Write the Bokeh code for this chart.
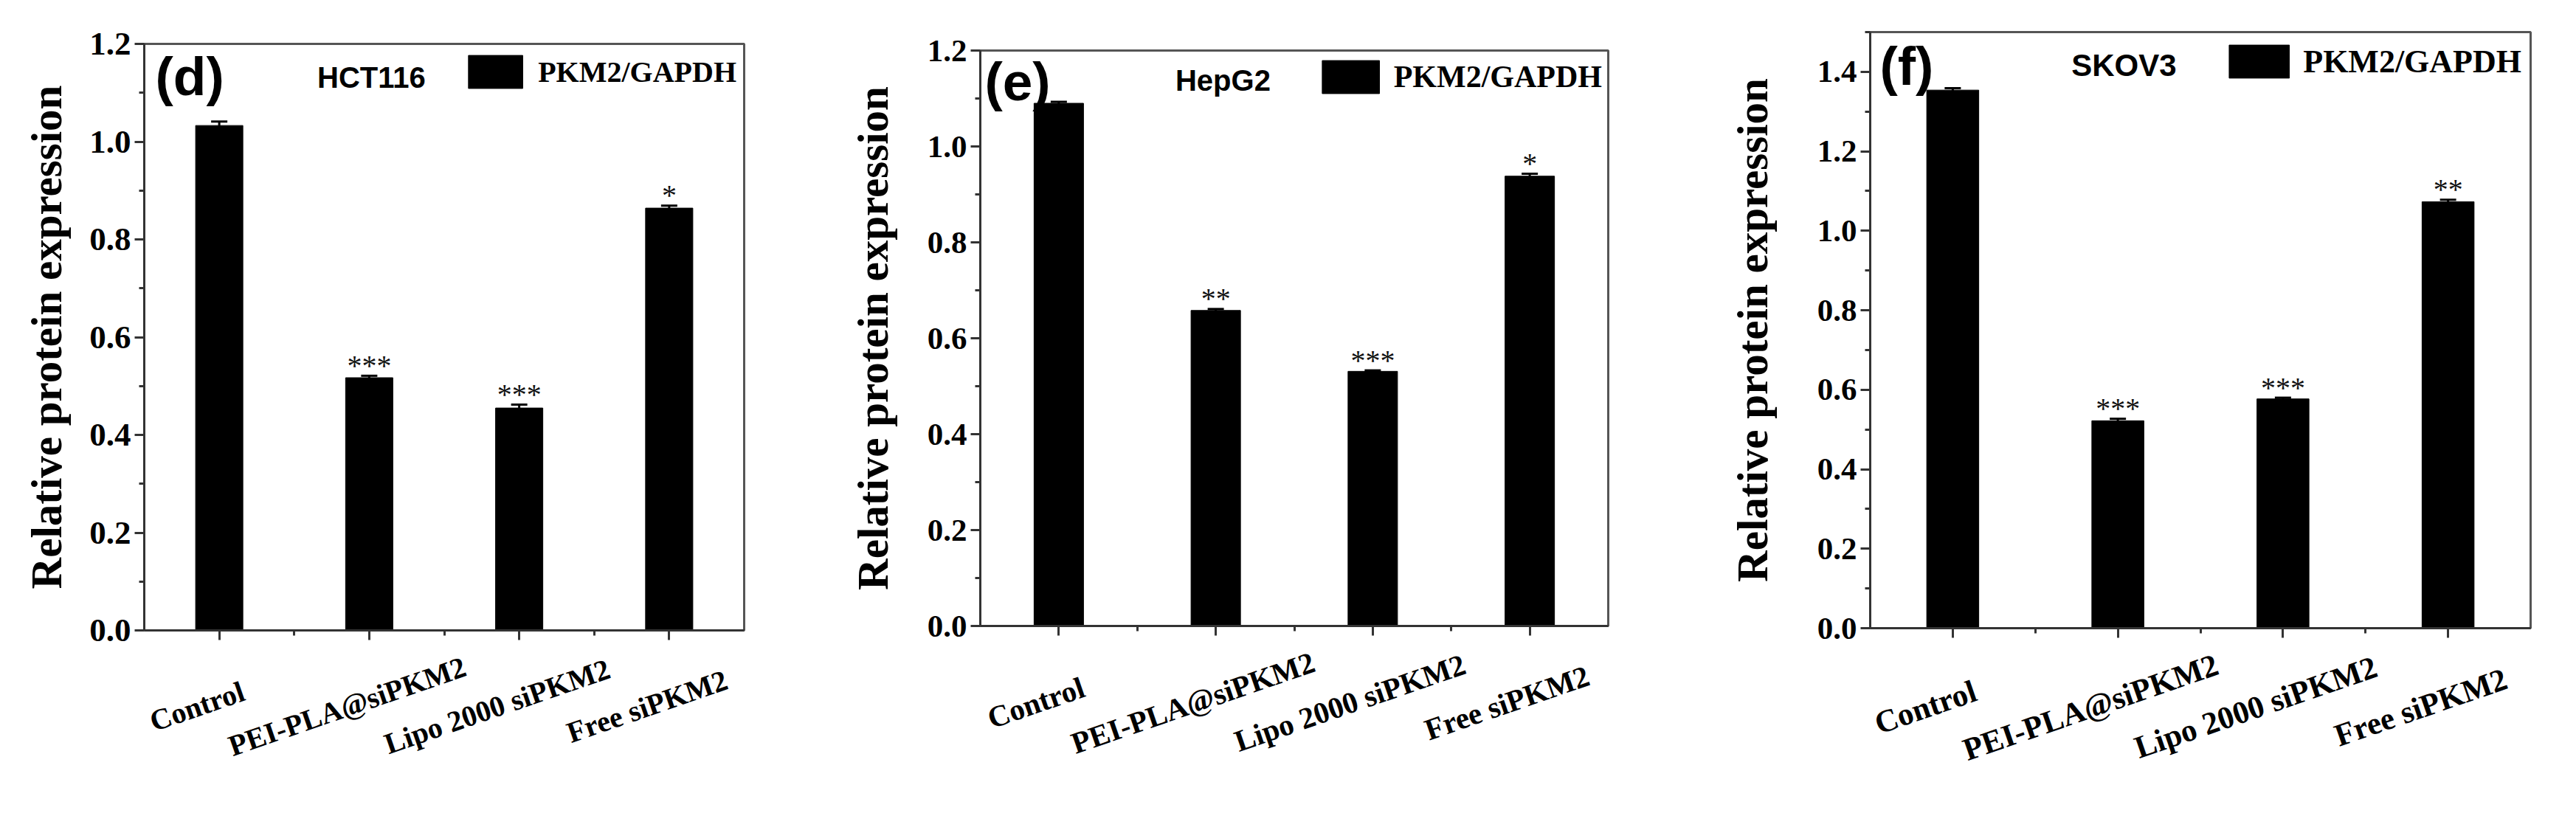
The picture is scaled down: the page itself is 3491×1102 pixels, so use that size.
from bokeh.plotting import figure
from bokeh.layouts import row, column
from bokeh.models import (ColumnDataSource, FixedTicker, Whisker, TeeHead, Legend,
                          LegendItem, Label, PrintfTickFormatter, Range1d)
from bokeh.core.properties import value
from bokeh.embed import file_html
from bokeh.resources import INLINE

# ---------------- data ----------------
categories = ["Control", "PEI-PLA@siPKM2", "Lipo 2000 siPKM2", "Free siPKM2"]
series_name = "PKM2/GAPDH"

hct116_values = [1.033, 0.517, 0.455, 0.864]
hct116_errors = [0.008, 0.004, 0.007, 0.005]
hct116_stars = ["", "***", "***", "*"]

hepg2_values = [1.090, 0.658, 0.531, 0.938]
hepg2_errors = [0.003, 0.003, 0.002, 0.005]
hepg2_stars = ["", "**", "***", "*"]

skov3_values = [1.354, 0.522, 0.577, 1.073]
skov3_errors = [0.005, 0.005, 0.003, 0.005]
skov3_stars = ["", "***", "***", "**"]

yticks_12 = [0.0, 0.2, 0.4, 0.6, 0.8, 1.0, 1.2]
yminor_12 = [0.1, 0.3, 0.5, 0.7, 0.9, 1.1]
yticks_14 = [0.0, 0.2, 0.4, 0.6, 0.8, 1.0, 1.2, 1.4]
yminor_14 = [0.1, 0.3, 0.5, 0.7, 0.9, 1.1, 1.3, 1.5]

SERIF = "Liberation Serif"
NARROW = "Liberation Sans Narrow, Arial Narrow, Liberation Sans"
TOTAL_H = 1080
BOTTOM = 27          # room under the x axis inside the main figure
ANGLE = 0.332        # slant of the category names (19 degrees)


def make_panel(letter, cell, values, errors, stars, ymax, yticks, yminor, lay):
    n = len(categories)
    xs = list(range(1, n + 1))
    src = ColumnDataSource(dict(
        x=xs, top=values,
        upper=[v + e for v, e in zip(values, errors)],
        lower=[v - e for v, e in zip(values, errors)],
        stars=stars))

    h_main = lay["bt"] + lay["fh"] + BOTTOM
    p = figure(width=lay["w"], height=h_main, x_range=(0.5, n + 0.5), y_range=(0, ymax),
               output_backend="svg", toolbar_location=None,
               min_border_left=lay["bl"], min_border_right=lay["br"],
               min_border_top=lay["bt"], min_border_bottom=BOTTOM)
    p.xgrid.visible = False
    p.ygrid.visible = False
    p.outline_line_color = "#555555"
    p.outline_line_width = 3
    p.background_fill_color = "white"
    p.border_fill_color = "white"

    bars = p.vbar(x="x", top="top", width=0.315, bottom=0, source=src,
                  fill_color="black", line_color="black", line_width=1)

    w = Whisker(source=src, base="x", upper="upper", lower="lower",
                line_color="black", line_width=3,
                upper_head=TeeHead(size=22, line_width=3, line_color="black"),
                lower_head=TeeHead(size=22, line_width=3, line_color="black"))
    p.add_layout(w)

    p.text(x="x", y="upper", text="stars", source=src, text_align="center",
           text_baseline="alphabetic", y_offset=-14, text_font=value(SERIF),
           text_font_size=lay["sf"], text_color="#111111")

    # axes
    for ax in (p.xaxis[0], p.yaxis[0]):
        ax.axis_line_width = 3
        ax.axis_line_color = "#333333"
        ax.major_tick_line_width = 3
        ax.major_tick_line_color = "#333333"
        ax.minor_tick_line_width = 3
        ax.minor_tick_line_color = "#333333"
        ax.major_tick_in = 0
        ax.minor_tick_in = 0
        ax.major_tick_out = 13
        ax.minor_tick_out = 7
        ax.major_label_text_font = SERIF
        ax.major_label_text_font_style = "bold"
        ax.major_label_text_color = "black"

    ya = p.yaxis[0]
    ya.ticker = FixedTicker(ticks=yticks, minor_ticks=yminor)
    ya.formatter = PrintfTickFormatter(format="%.1f")
    ya.major_label_text_font_size = lay["ytick"]
    ya.axis_label = "Relative protein expression"
    ya.axis_label_text_font = SERIF
    ya.axis_label_text_font_style = "bold"
    ya.axis_label_text_font_size = "59px"
    ya.axis_label_text_color = "black"
    ya.axis_label_standoff = lay["ystand"]

    xa = p.xaxis[0]
    xa.ticker = FixedTicker(ticks=xs, minor_ticks=[i + 0.5 for i in xs[:-1]])
    xa.major_label_overrides = {i: "" for i in xs}
    xa.major_label_standoff = 0
    xa.major_label_text_font_size = "1px"

    legend = Legend(items=[LegendItem(label=series_name, renderers=[bars])],
                    location="top_right", margin=lay["lm"], padding=0,
                    glyph_width=lay["gw"], glyph_height=56, label_height=56,
                    label_standoff=lay["ls"], label_text_font=SERIF,
                    label_text_font_style="bold", label_text_font_size=lay["lf"],
                    label_text_color="black",
                    border_line_color=None, background_fill_alpha=0)
    p.add_layout(legend)

    p.add_layout(Label(x=lay["lx"], y=lay["ly"], text=letter, text_font=NARROW,
                       text_font_style="bold", text_font_size="73px",
                       text_align="left", text_baseline="top", text_color="black"))
    p.add_layout(Label(x=lay["cx"], y=lay["cy"], text=cell, text_font=NARROW,
                       text_font_style="bold", text_font_size=lay["cf"],
                       text_align="center", text_baseline="middle", text_color="black"))

    # strip under the axis holding the slanted category names, sharing the x scale
    h_lab = TOTAL_H - h_main
    q = figure(width=lay["w"], height=h_lab, x_range=p.x_range,
               y_range=Range1d(-h_lab, 0), output_backend="svg", toolbar_location=None,
               x_axis_location=None, y_axis_location=None,
               min_border_left=lay["bl"], min_border_right=lay["br"],
               min_border_top=0, min_border_bottom=0)
    q.xgrid.visible = False
    q.ygrid.visible = False
    q.outline_line_color = None
    q.background_fill_color = "white"
    q.border_fill_color = "white"
    lab_src = ColumnDataSource(dict(x=xs, name=categories,
                                    y=[-(lay["yo"] - BOTTOM)] * n))
    q.text(x="x", y="y", text="name", source=lab_src, angle=ANGLE,
           x_offset=lay["xo"], text_align="center", text_baseline="middle",
           text_font=value(SERIF), text_font_style="bold",
           text_font_size=lay["xf"], text_color="black")
    return column(p, q, spacing=0)


p1 = make_panel("(d)", "HCT116", hct116_values, hct116_errors, hct116_stars, 1.2,
                yticks_12, yminor_12,
                dict(w=1120, fh=795, bl=195, br=112, bt=59, ytick="45px",
                     ystand=22, lm=10, gw=92, ls=12, lf="40px", sf="40px",
                     xo=-30, yo=103, xf="40px",
                     lx=0.574, ly=1.194, cx=2.015, cy=1.132, cf="40px"))
p2 = make_panel("(e)", "HepG2", hepg2_values, hepg2_errors, hepg2_stars, 1.2,
                yticks_12, yminor_12,
                dict(w=1202, fh=780, bl=208, br=143, bt=68, ytick="43px",
                     ystand=38, lm=8, gw=97, ls=10, lf="42px", sf="40px",
                     xo=-31, yo=104, xf="41px",
                     lx=0.528, ly=1.197, cx=2.046, cy=1.137, cf="40px"))
p3 = make_panel("(f)", "SKOV3", skov3_values, skov3_errors, skov3_stars, 1.5,
                yticks_14, yminor_14,
                dict(w=1153, fh=808, bl=212, br=46, bt=43, ytick="43px",
                     ystand=52, lm=12, gw=102, ls=9, lf="44px", sf="40px",
                     xo=-37, yo=107, xf="43px",
                     lx=0.558, ly=1.489, cx=2.037, cy=1.416, cf="42px"))

layout = row(p1, p2, p3, spacing=0)
open("out.html", "w").write(file_html(layout, INLINE))
